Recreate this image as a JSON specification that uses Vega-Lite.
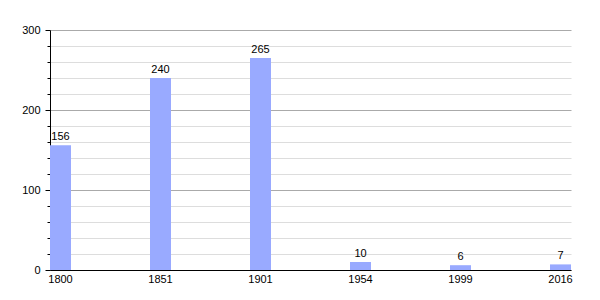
{
  "$schema": "https://vega.github.io/schema/vega-lite/v6.json",
  "width": 521,
  "height": 240,
  "autosize": "none",
  "padding": {"left": 50, "top": 30, "right": 29, "bottom": 30},
  "background": "white",
  "data": {"values": [
    {"year": "1800", "pop": 156},
    {"year": "1851", "pop": 240},
    {"year": "1901", "pop": 265},
    {"year": "1954", "pop": 10},
    {"year": "1999", "pop": 6},
    {"year": "2016", "pop": 7}
  ]},
  "encoding": {
    "x": {
      "field": "year", "type": "ordinal", "sort": null,
      "scale": {"paddingInner": 0.79, "paddingOuter": 0},
      "axis": {"title": null, "labelAngle": 0, "ticks": false, "domainColor": "#000", "labelFontSize": 11, "labelFont": "Liberation Sans", "labelColor": "#000", "labelPadding": 3, "grid": false}
    },
    "y": {
      "field": "pop", "type": "quantitative",
      "scale": {"domain": [0, 300], "nice": false},
      "axis": {
        "title": null,
        "values": [0, 20, 40, 60, 80, 100, 120, 140, 160, 180, 200, 220, 240, 260, 280, 300],
        "grid": true,
        "gridColor": {"condition": {"test": "datum.value % 100 === 0", "value": "#aaaaaa"}, "value": "#dddddd"},
        "tickSize": {"condition": {"test": "datum.value % 100 === 0", "value": 5}, "value": 3},
        "labelExpr": "datum.value % 100 === 0 ? datum.label : ''",
        "domainColor": "#000", "tickColor": "#000",
        "labelFontSize": 11, "labelFont": "Liberation Sans", "labelColor": "#000",
        "labelPadding": 5
      }
    }
  },
  "layer": [
    {"mark": {"type": "bar", "color": "#99aaff"}},
    {"mark": {"type": "text", "dy": -3, "baseline": "bottom", "fontSize": 11, "font": "Liberation Sans", "color": "#000"},
     "encoding": {"text": {"field": "pop", "type": "quantitative"}}}
  ],
  "config": {"view": {"stroke": null}}
}
